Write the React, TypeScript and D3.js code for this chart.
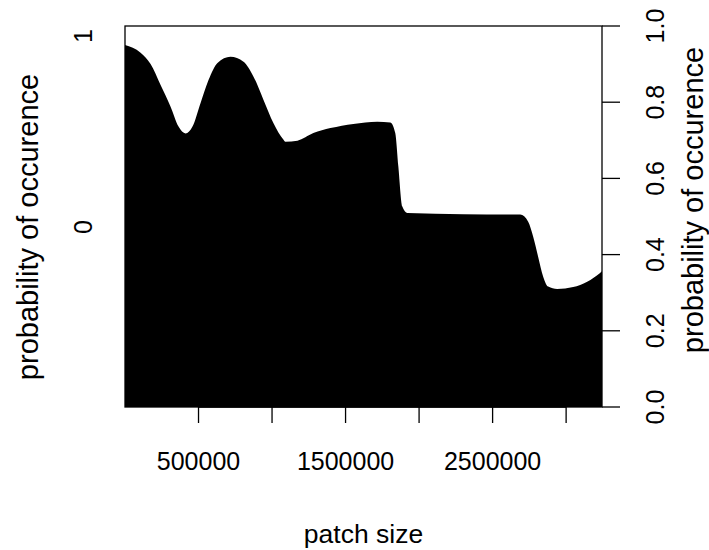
import React from "react";
import * as d3 from "d3";

// patch size values (x) and probability of occurence (y)
const patchSize = [
  0, 106000, 174000, 242000, 310000, 364000, 412000, 459000, 514000, 568000,
  629000, 717000, 806000, 874000, 942000, 1010000, 1077000, 1091000, 1173000,
  1281000, 1397000, 1553000, 1716000, 1804000, 1838000, 1859000, 1886000,
  1920000, 2300000, 2688000, 2742000, 2776000, 2810000, 2844000, 2878000,
  2939000, 3048000, 3143000, 3231000, 3244000,
];
const probability = [
  0.95, 0.93, 0.9, 0.845, 0.788, 0.736, 0.718, 0.736, 0.798, 0.858,
  0.903, 0.919, 0.906, 0.867, 0.806, 0.745, 0.702, 0.696, 0.699,
  0.719, 0.732, 0.743, 0.749, 0.747, 0.719, 0.631, 0.526,
  0.509, 0.506, 0.505, 0.486, 0.447, 0.394, 0.342, 0.316,
  0.31, 0.315, 0.329, 0.352, 0.356,
];
const xTicks = [500000, 1000000, 1500000, 2000000, 2500000, 3000000];
const xTickLabels = ["500000", "", "1500000", "", "2500000", ""];
const rightTicks = [0, 0.2, 0.4, 0.6, 0.8, 1.0];
const rightTickLabels = ["0.0", "0.2", "0.4", "0.6", "0.8", "1.0"];
const leftTicks = [0, 1];
const leftTickLabels = ["0", "1"];
const xTitle = "patch size";
const yTitle = "probability of occurence";

const W = 709;
const H = 550;
const L = 125, R = 602, T = 26, B = 407;
const FONT = "'Liberation Sans', Arial, Helvetica, sans-serif";

export default function App() {
  const x = d3.scaleLinear().domain([0, 3244000]).range([L, R]);
  const y = d3.scaleLinear().domain([0, 1]).range([B, T]);
  const yLeft = d3.scaleLinear().domain([0, 1]).range([227, 36]);
  const data = patchSize.map((v, i) => ({ v, p: probability[i] }));
  const area = d3
    .area<{ v: number; p: number }>()
    .x((d) => x(d.v))
    .y0(y(0))
    .y1((d) => y(d.p))
    .curve(d3.curveMonotoneX);

  return (
    <svg
      width={W}
      height={H}
      style={{ position: "absolute", left: 0, top: 0, background: "#fff" }}
      fontFamily={FONT}
    >
      <rect x={0} y={0} width={W} height={H} fill="#fff" />
      <path d={area(data) || ""} fill="#000" />
      <rect x={L} y={T} width={R - L} height={B - T} fill="none" stroke="#000" strokeWidth={1.3} />
      {/* bottom axis */}
      <line x1={x(xTicks[0])} x2={x(xTicks[xTicks.length - 1])} y1={B} y2={B} stroke="#000" strokeWidth={1.3} />
      {xTicks.map((t, i) => (
        <g key={"xt" + i}>
          <line x1={x(t)} x2={x(t)} y1={B} y2={B + 16} stroke="#000" strokeWidth={1.3} />
          {xTickLabels[i] && (
            <text x={x(t)} y={470} textAnchor="middle" fontSize={25}>
              {xTickLabels[i]}
            </text>
          )}
        </g>
      ))}
      {/* right axis */}
      {rightTicks.map((t, i) => (
        <g key={"rt" + i}>
          <line x1={R} x2={R + 18} y1={y(t)} y2={y(t)} stroke="#000" strokeWidth={1.3} />
          <text
            transform={`translate(664,${y(t)}) rotate(-90)`}
            textAnchor="middle"
            fontSize={25}
          >
            {rightTickLabels[i]}
          </text>
        </g>
      ))}
      {/* left axis labels */}
      {leftTicks.map((t, i) => (
        <text
          key={"lt" + i}
          transform={`translate(92,${yLeft(t)}) rotate(-90)`}
          textAnchor="middle"
          fontSize={25}
        >
          {leftTickLabels[i]}
        </text>
      ))}
      <text x={(L + R) / 2} y={543} textAnchor="middle" fontSize={26.5}>
        {xTitle}
      </text>
      <text
        transform={`translate(38,227) rotate(-90)`}
        textAnchor="middle"
        fontSize={29}
      >
        {yTitle}
      </text>
      <text
        transform={`translate(703,200) rotate(-90)`}
        textAnchor="middle"
        fontSize={29}
      >
        {yTitle}
      </text>
    </svg>
  );
}
